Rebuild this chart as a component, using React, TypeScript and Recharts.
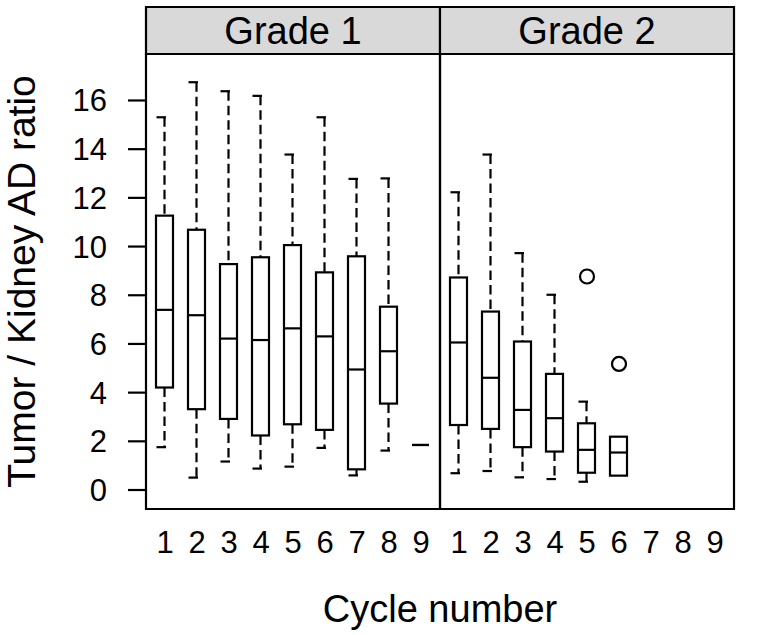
import React from 'react';
import { ComposedChart, Bar, Scatter, XAxis, YAxis, ReferenceArea } from 'recharts';

// ---- data ----
const cycles = [1, 2, 3, 4, 5, 6, 7, 8, 9];
const grade1Min = [1.76, 0.51, 1.17, 0.88, 0.96, 1.73, 0.6, 1.62, 1.85];
const grade1Q1 = [4.21, 3.32, 2.92, 2.24, 2.7, 2.47, 0.85, 3.55, 1.85];
const grade1Median = [7.4, 7.18, 6.22, 6.16, 6.64, 6.31, 4.95, 5.7, 1.85];
const grade1Q3 = [11.27, 10.69, 9.28, 9.56, 10.06, 8.94, 9.6, 7.53, 1.85];
const grade1Max = [15.31, 16.75, 16.38, 16.19, 13.78, 15.31, 12.78, 12.8, 1.85];

const grade2Cycles = [1, 2, 3, 4, 5, 6];
const grade2Min = [0.69, 0.78, 0.52, 0.45, 0.34, 0.57];
const grade2Q1 = [2.67, 2.51, 1.76, 1.58, 0.71, 0.59];
const grade2Median = [6.06, 4.61, 3.29, 2.95, 1.65, 1.54];
const grade2Q3 = [8.73, 7.33, 6.1, 4.77, 2.74, 2.19];
const grade2Max = [12.23, 13.78, 9.73, 8.02, 3.63, 2.19];
const grade2OutlierCycles = [5, 6];
const grade2OutlierValues = [8.77, 5.18];

const yTicks = [0, 2, 4, 6, 8, 10, 12, 14, 16];
const panelLabels = ['Grade 1', 'Grade 2'];

// ---- panel geometry in data units ----
const PAD = 0.59375;
const SPAN = 8 + 2 * PAD; // width of one panel in x units
const X_MIN = 1 - PAD;
const X_MAX = X_MIN + 2 * SPAN;
const Y_MIN = -0.78;
const Y_STRIP = 17.91;
const Y_MAX = 19.84;

const boxData = [
  ...cycles.map((c, i) => ({
    x: c,
    min: grade1Min[i],
    q1: grade1Q1[i],
    med: grade1Median[i],
    q3: grade1Q3[i],
    max: grade1Max[i],
  })),
  ...grade2Cycles.map((c, i) => ({
    x: c + SPAN,
    min: grade2Min[i],
    q1: grade2Q1[i],
    med: grade2Median[i],
    q3: grade2Q3[i],
    max: grade2Max[i],
  })),
];

const outlierData = grade2OutlierCycles.map((c, i) => ({ x: c + SPAN, y: grade2OutlierValues[i] }));

const xTicks = [...cycles, ...cycles.map((c) => c + SPAN)];

const FONT = '"Liberation Sans", Arial, Helvetica, sans-serif';

const BoxShape = (props: any) => {
  const { x, y, width, height, payload } = props;
  if (x == null || y == null || !payload) return null;
  const top = Math.min(y, y + (height || 0));
  const h = Math.abs(height || 0);
  const { min, q1, med, q3, max } = payload;
  const range = max - min;
  const py = (v: number) => (range > 0 ? top + (h * (max - v)) / range : top);
  const cx = x + width / 2;
  const yMax = py(max);
  const yQ3 = py(q3);
  const yMed = py(med);
  const yQ1 = py(q1);
  const yMin = py(min);
  const s = { stroke: '#000', strokeWidth: 2.2, fill: 'none' };
  return (
    <g>
      {yQ3 - yMax > 0.5 && (
        <>
          <line x1={cx} x2={cx} y1={yMax} y2={yQ3} {...s} strokeDasharray="9.5 5" />
          <line x1={cx - 8} x2={cx + 1.5} y1={yMax} y2={yMax} {...s} />
        </>
      )}
      {yMin - yQ1 > 0.5 && (
        <>
          <line x1={cx} x2={cx} y1={yQ1} y2={yMin} {...s} strokeDasharray="9.5 5" />
          <line x1={cx - 8} x2={cx + 1.5} y1={yMin} y2={yMin} {...s} />
        </>
      )}
      {yQ1 - yQ3 > 0.5 ? (
        <rect x={x} y={yQ3} width={width} height={yQ1 - yQ3} {...s} />
      ) : (
        <line x1={x} x2={x + width} y1={yQ3} y2={yQ3} {...s} />
      )}
      <line x1={x} x2={x + width} y1={yMed} y2={yMed} {...s} />
    </g>
  );
};

const OutlierShape = (props: any) => {
  const { cx, cy } = props;
  if (cx == null || cy == null) return null;
  return <circle cx={cx} cy={cy} r={7} fill="none" stroke="#000" strokeWidth={2.2} />;
};

const YTitle = (props: any) => {
  const vb = props.viewBox || {};
  const frac = (Y_MAX - Y_STRIP) / (Y_MAX - Y_MIN);
  const cy = vb.y + (vb.height * (1 + frac)) / 2;
  const tx = vb.x + 35;
  return (
    <text
      x={tx}
      y={cy}
      transform={`rotate(-90, ${tx}, ${cy})`}
      textAnchor="middle"
      fontSize={39}
      fill="#000"
      fontFamily={FONT}
    >
      Tumor / Kidney AD ratio
    </text>
  );
};

const XTitle = (props: any) => {
  const vb = props.viewBox || {};
  return (
    <text
      x={vb.x + vb.width / 2}
      y={vb.y + 112.5}
      textAnchor="middle"
      fontSize={38}
      fill="#000"
      fontFamily={FONT}
    >
      Cycle number
    </text>
  );
};

export default function App() {
  return (
    <div style={{ position: 'absolute', left: 0, top: 0, width: 760, height: 635, fontFamily: FONT, background: '#fff' }}>
      <ComposedChart
        width={760}
        height={635}
        data={boxData}
        margin={{ top: 7, right: 0, bottom: 0, left: 0 }}
      >
        <XAxis
          type="number"
          dataKey="x"
          domain={[X_MIN, X_MAX]}
          ticks={xTicks}
          interval={0}
          tickFormatter={(v: number) => String(Math.round(v > X_MIN + SPAN ? v - SPAN : v))}
          tickLine={false}
          axisLine={false}
          tickSize={10}
          tickMargin={12}
          height={126}
          tick={{ fontSize: 31, fill: '#000', fontFamily: FONT }}
          label={<XTitle />}
          allowDataOverflow
        />
        <YAxis
          yAxisId="left"
          type="number"
          domain={[Y_MIN, Y_MAX]}
          ticks={yTicks}
          interval={0}
          width={146}
          tickSize={18}
          tickMargin={21}
          axisLine={false}
          tickLine={{ stroke: '#000', strokeWidth: 2.2 }}
          tick={{ fontSize: 31, fill: '#000', fontFamily: FONT }}
          label={<YTitle />}
          allowDataOverflow
        />
        <YAxis
          yAxisId="right"
          orientation="right"
          type="number"
          domain={[Y_MIN, Y_MAX]}
          ticks={yTicks}
          interval={0}
          width={26}
          tickSize={18}
          axisLine={false}
          tickLine={{ stroke: '#000', strokeWidth: 2.2 }}
          tick={false}
          allowDataOverflow
        />
        {panelLabels.map((lab, i) => (
          <ReferenceArea
            key={'strip' + i}
            yAxisId="left"
            x1={X_MIN + i * SPAN}
            x2={X_MIN + (i + 1) * SPAN}
            y1={Y_STRIP}
            y2={Y_MAX}
            fill="#d9d9d9"
            fillOpacity={1}
            stroke="#000"
            strokeWidth={2.2}
            label={{ value: lab, position: 'center', fontSize: 38, fill: '#000', fontFamily: FONT }}
          />
        ))}
        {panelLabels.map((lab, i) => (
          <ReferenceArea
            key={'panel' + i}
            yAxisId="left"
            x1={X_MIN + i * SPAN}
            x2={X_MIN + (i + 1) * SPAN}
            y1={Y_MIN}
            y2={Y_STRIP}
            fill="none"
            fillOpacity={0}
            stroke="#000"
            strokeWidth={2.2}
          />
        ))}
        <Bar
          yAxisId="left"
          dataKey={(d: any) => [d.min, d.max]}
          barSize={17}
          shape={<BoxShape />}
          isAnimationActive={false}
        />
        <Scatter
          yAxisId="left"
          data={outlierData}
          dataKey="y"
          shape={<OutlierShape />}
          isAnimationActive={false}
        />
      </ComposedChart>
    </div>
  );
}
